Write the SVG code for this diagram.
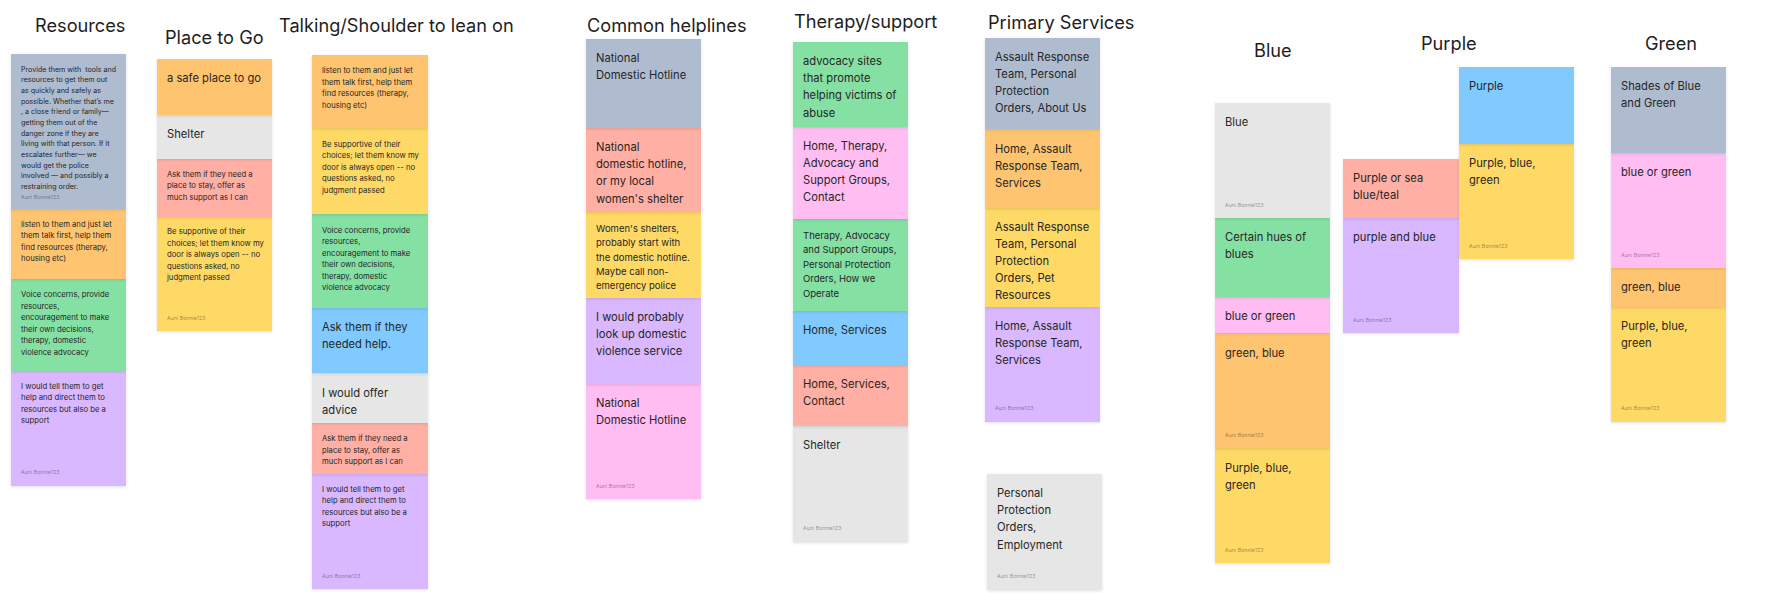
<svg xmlns="http://www.w3.org/2000/svg" width="1767" height="593" viewBox="0 0 1767 593">
<defs>
<filter id="sh" x="-10%" y="-10%" width="120%" height="125%">
<feDropShadow dx="0" dy="1" stdDeviation="1.5" flood-color="#000" flood-opacity="0.12"/>
</filter>
</defs>
<style>
text{font-family:Inter,"Liberation Sans",sans-serif;fill:#262626}
.hd{font-size:18.2px;fill:#1e1e1e}
.l{font-size:11.2px}
.m{font-size:9.5px}
.s{font-size:7.7px}
.xs{font-size:7.1px}
.au{font-size:5.3px;fill:#000;fill-opacity:0.4}
rect{filter:url(#sh)}
.gb{fill:#AFBCCF}.or{fill:#FFC470}.gr{fill:#85E0A3}.vi{fill:#D9B8FF}.ye{fill:#FFD966}.rd{fill:#FFAFA3}.gy{fill:#E6E6E6}.bl{fill:#80CAFF}.pk{fill:#FFBDF2}
</style>
<rect width="1767" height="593" fill="#ffffff" style="filter:none"/>
<g id="headers">
<text class="hd" x="35" y="32">Resources</text>
<text class="hd" x="165" y="44">Place to Go</text>
<text class="hd" x="279" y="31.5">Talking/Shoulder to lean on</text>
<text class="hd" x="587" y="31.5">Common helplines</text>
<text class="hd" x="794" y="27.5">Therapy/support</text>
<text class="hd" x="988" y="29">Primary Services</text>
<text class="hd" x="1254" y="57">Blue</text>
<text class="hd" x="1421" y="50">Purple</text>
<text class="hd" x="1645" y="50">Green</text>
</g>
<g id="connectors"/>

<!-- Resources -->
<g id="res-4"><rect class="vi" x="11" y="371" width="115" height="115"/>
<text class="s" x="21" y="388.5">I would tell them to get<tspan x="21" dy="11.5">help and direct them to</tspan><tspan x="21" dy="11.5">resources but also be a</tspan><tspan x="21" dy="11.5">support</tspan></text>
<text class="au" x="21" y="474">Auni Bonnie123</text></g>
<g id="res-3"><rect class="gr" x="11" y="279" width="115" height="92"/>
<text class="s" x="21" y="297">Voice concerns, provide<tspan x="21" dy="11.5">resources,</tspan><tspan x="21" dy="11.5">encouragement to make</tspan><tspan x="21" dy="11.5">their own decisions,</tspan><tspan x="21" dy="11.5">therapy, domestic</tspan><tspan x="21" dy="11.5">violence advocacy</tspan></text></g>
<g id="res-2"><rect class="or" x="11" y="209" width="115" height="70"/>
<text class="s" x="21" y="226.5">listen to them and just let<tspan x="21" dy="11.5">them talk first, help them</tspan><tspan x="21" dy="11.5">find resources (therapy,</tspan><tspan x="21" dy="11.5">housing etc)</tspan></text></g>
<g id="res-1"><rect class="gb" x="11" y="54" width="115" height="155"/>
<text class="xs" x="21" y="71.7">Provide them with&#160; tools and<tspan x="21" dy="10.66">resources to get them out</tspan><tspan x="21" dy="10.66">as quickly and safely as</tspan><tspan x="21" dy="10.66">possible. Whether that’s me</tspan><tspan x="21" dy="10.66">, a close friend or family—</tspan><tspan x="21" dy="10.66">getting them out of the</tspan><tspan x="21" dy="10.66">danger zone if they are</tspan><tspan x="21" dy="10.66">living with that person. If it</tspan><tspan x="21" dy="10.66">escalates further— we</tspan><tspan x="21" dy="10.66">would get the police</tspan><tspan x="21" dy="10.66">involved — and possibly a</tspan><tspan x="21" dy="10.66">restraining order.</tspan></text>
<text class="au" x="21" y="198.5">Auni Bonnie123</text></g>

<!-- Place to Go -->
<g id="place-4"><rect class="ye" x="157" y="217" width="115" height="114"/>
<text class="s" x="167" y="234">Be supportive of their<tspan x="167" dy="11.5">choices; let them know my</tspan><tspan x="167" dy="11.5">door is always open -- no</tspan><tspan x="167" dy="11.5">questions asked, no</tspan><tspan x="167" dy="11.5">judgment passed</tspan></text>
<text class="au" x="167" y="320">Auni Bonnie123</text></g>
<g id="place-3"><rect class="rd" x="157" y="159" width="115" height="58"/>
<text class="s" x="167" y="176.5">Ask them if they need a<tspan x="167" dy="11.5">place to stay, offer as</tspan><tspan x="167" dy="11.5">much support as I can</tspan></text></g>
<g id="place-2"><rect class="gy" x="157" y="115" width="115" height="44"/>
<text class="l" x="167" y="137.5">Shelter</text></g>
<g id="place-1"><rect class="or" x="157" y="59" width="115" height="56"/>
<text class="l" x="167" y="82">a safe place to go</text></g>

<!-- Talking -->
<g id="talk-7"><rect class="vi" x="312" y="474" width="116" height="115"/>
<text class="s" x="322" y="491.5">I would tell them to get<tspan x="322" dy="11.5">help and direct them to</tspan><tspan x="322" dy="11.5">resources but also be a</tspan><tspan x="322" dy="11.5">support</tspan></text>
<text class="au" x="322" y="577.5">Auni Bonnie123</text></g>
<g id="talk-6"><rect class="rd" x="312" y="423" width="116" height="51"/>
<text class="s" x="322" y="441">Ask them if they need a<tspan x="322" dy="11.5">place to stay, offer as</tspan><tspan x="322" dy="11.5">much support as I can</tspan></text></g>
<g id="talk-5"><rect class="gy" x="312" y="373" width="116" height="50"/>
<text class="l" x="322" y="396.5">I would offer<tspan x="322" dy="17">advice</tspan></text></g>
<g id="talk-4"><rect class="bl" x="312" y="308" width="116" height="65"/>
<text class="l" x="322" y="331">Ask them if they<tspan x="322" dy="17">needed help.</tspan></text></g>
<g id="talk-3"><rect class="gr" x="312" y="214" width="116" height="94"/>
<text class="s" x="322" y="232.5">Voice concerns, provide<tspan x="322" dy="11.5">resources,</tspan><tspan x="322" dy="11.5">encouragement to make</tspan><tspan x="322" dy="11.5">their own decisions,</tspan><tspan x="322" dy="11.5">therapy, domestic</tspan><tspan x="322" dy="11.5">violence advocacy</tspan></text></g>
<g id="talk-2"><rect class="ye" x="312" y="128" width="116" height="86"/>
<text class="s" x="322" y="146.5">Be supportive of their<tspan x="322" dy="11.5">choices; let them know my</tspan><tspan x="322" dy="11.5">door is always open -- no</tspan><tspan x="322" dy="11.5">questions asked, no</tspan><tspan x="322" dy="11.5">judgment passed</tspan></text></g>
<g id="talk-1"><rect class="or" x="312" y="55" width="116" height="73"/>
<text class="s" x="322" y="73">listen to them and just let<tspan x="322" dy="11.5">them talk first, help them</tspan><tspan x="322" dy="11.5">find resources (therapy,</tspan><tspan x="322" dy="11.5">housing etc)</tspan></text></g>

<!-- Common helplines -->
<g id="help-5"><rect class="pk" x="586" y="384" width="115" height="115"/>
<text class="l" x="596" y="407">National<tspan x="596" dy="17.2">Domestic Hotline</tspan></text>
<text class="au" x="596" y="488">Auni Bonnie123</text></g>
<g id="help-4"><rect class="vi" x="586" y="298" width="115" height="86"/>
<text class="l" x="596" y="320.5">I would probably<tspan x="596" dy="17.2">look up domestic</tspan><tspan x="596" dy="17.2">violence service</tspan></text></g>
<g id="help-3"><rect class="ye" x="586" y="212" width="115" height="86"/>
<text class="m" x="596" y="232">Women's shelters,<tspan x="596" dy="14.3">probably start with</tspan><tspan x="596" dy="14.3">the domestic hotline.</tspan><tspan x="596" dy="14.3">Maybe call non-</tspan><tspan x="596" dy="14.3">emergency police</tspan></text></g>
<g id="help-2"><rect class="rd" x="586" y="128" width="115" height="84"/>
<text class="l" x="596" y="151">National<tspan x="596" dy="17.2">domestic hotline,</tspan><tspan x="596" dy="17.2">or my local</tspan><tspan x="596" dy="17.2">women's shelter</tspan></text></g>
<g id="help-1"><rect class="gb" x="586" y="39" width="115" height="89"/>
<text class="l" x="596" y="61.5">National<tspan x="596" dy="17.2">Domestic Hotline</tspan></text></g>

<!-- Therapy/support -->
<g id="ther-6"><rect class="gy" x="793" y="426" width="115" height="116"/>
<text class="l" x="803" y="448.5">Shelter</text>
<text class="au" x="803" y="529.5">Auni Bonnie123</text></g>
<g id="ther-5"><rect class="rd" x="793" y="365" width="115" height="61"/>
<text class="l" x="803" y="387.5">Home, Services,<tspan x="803" dy="17.2">Contact</tspan></text></g>
<g id="ther-4"><rect class="bl" x="793" y="311" width="115" height="54"/>
<text class="l" x="803" y="333.5">Home, Services</text></g>
<g id="ther-3"><rect class="gr" x="793" y="219" width="115" height="92"/>
<text class="m" x="803" y="239">Therapy, Advocacy<tspan x="803" dy="14.4">and Support Groups,</tspan><tspan x="803" dy="14.4">Personal Protection</tspan><tspan x="803" dy="14.4">Orders, How we</tspan><tspan x="803" dy="14.4">Operate</tspan></text></g>
<g id="ther-2"><rect class="pk" x="793" y="127" width="115" height="92"/>
<text class="l" x="803" y="149.5">Home, Therapy,<tspan x="803" dy="17.2">Advocacy and</tspan><tspan x="803" dy="17.2">Support Groups,</tspan><tspan x="803" dy="17.2">Contact</tspan></text></g>
<g id="ther-1"><rect class="gr" x="793" y="42" width="115" height="85"/>
<text class="l" x="803" y="65">advocacy sites<tspan x="803" dy="17.2">that promote</tspan><tspan x="803" dy="17.2">helping victims of</tspan><tspan x="803" dy="17.2">abuse</tspan></text></g>

<!-- Primary Services -->
<g id="prim-4"><rect class="vi" x="985" y="307" width="115" height="115"/>
<text class="l" x="995" y="329.5">Home, Assault<tspan x="995" dy="17.2">Response Team,</tspan><tspan x="995" dy="17.2">Services</tspan></text>
<text class="au" x="995" y="410">Auni Bonnie123</text></g>
<g id="prim-3"><rect class="ye" x="985" y="208" width="115" height="99"/>
<text class="l" x="995" y="230.5">Assault Response<tspan x="995" dy="17.2">Team, Personal</tspan><tspan x="995" dy="17.2">Protection</tspan><tspan x="995" dy="17.2">Orders, Pet</tspan><tspan x="995" dy="17.2">Resources</tspan></text></g>
<g id="prim-2"><rect class="or" x="985" y="129" width="115" height="79"/>
<text class="l" x="995" y="152.5">Home, Assault<tspan x="995" dy="17.2">Response Team,</tspan><tspan x="995" dy="17.2">Services</tspan></text></g>
<g id="prim-1"><rect class="gb" x="985" y="38" width="115" height="91"/>
<text class="l" x="995" y="60.5">Assault Response<tspan x="995" dy="17.2">Team, Personal</tspan><tspan x="995" dy="17.2">Protection</tspan><tspan x="995" dy="17.2">Orders, About Us</tspan></text></g>
<g id="prim-5"><rect class="gy" x="987" y="474" width="115" height="116"/>
<text class="l" x="997" y="497">Personal<tspan x="997" dy="17.2">Protection</tspan><tspan x="997" dy="17.2">Orders,</tspan><tspan x="997" dy="17.2">Employment</tspan></text>
<text class="au" x="997" y="578">Auni Bonnie123</text></g>

<!-- Blue -->
<g id="blue-5"><rect class="ye" x="1215" y="448" width="115" height="115"/>
<text class="l" x="1225" y="471.5">Purple, blue,<tspan x="1225" dy="17.2">green</tspan></text>
<text class="au" x="1225" y="552">Auni Bonnie123</text></g>
<g id="blue-4"><rect class="or" x="1215" y="333" width="115" height="115"/>
<text class="l" x="1225" y="356.5">green, blue</text>
<text class="au" x="1225" y="437">Auni Bonnie123</text></g>
<g id="blue-3"><rect class="pk" x="1215" y="297" width="115" height="36"/>
<text class="l" x="1225" y="319.5">blue or green</text></g>
<g id="blue-2"><rect class="gr" x="1215" y="218" width="115" height="79"/>
<text class="l" x="1225" y="241">Certain hues of<tspan x="1225" dy="17.2">blues</tspan></text></g>
<g id="blue-1"><rect class="gy" x="1215" y="103" width="115" height="115"/>
<text class="l" x="1225" y="126">Blue</text>
<text class="au" x="1225" y="206.5">Auni Bonnie123</text></g>

<!-- Purple -->
<g id="purp-2"><rect class="vi" x="1343" y="218" width="116" height="115"/>
<text class="l" x="1353" y="241">purple and blue</text>
<text class="au" x="1353" y="322">Auni Bonnie123</text></g>
<g id="purp-1"><rect class="rd" x="1343" y="159" width="116" height="59"/>
<text class="l" x="1353" y="182">Purple or sea<tspan x="1353" dy="17.2">blue/teal</tspan></text></g>
<g id="purp-4"><rect class="ye" x="1459" y="144" width="115" height="115"/>
<text class="l" x="1469" y="167">Purple, blue,<tspan x="1469" dy="17.2">green</tspan></text>
<text class="au" x="1469" y="247.5">Auni Bonnie123</text></g>
<g id="purp-3"><rect class="bl" x="1459" y="67" width="115" height="77"/>
<text class="l" x="1469" y="89.5">Purple</text></g>

<!-- Green -->
<g id="green-4"><rect class="ye" x="1611" y="307" width="115" height="115"/>
<text class="l" x="1621" y="330">Purple, blue,<tspan x="1621" dy="17.2">green</tspan></text>
<text class="au" x="1621" y="410">Auni Bonnie123</text></g>
<g id="green-3"><rect class="or" x="1611" y="268" width="115" height="39"/>
<text class="l" x="1621" y="291">green, blue</text></g>
<g id="green-2"><rect class="pk" x="1611" y="153" width="115" height="115"/>
<text class="l" x="1621" y="176">blue or green</text>
<text class="au" x="1621" y="256.5">Auni Bonnie123</text></g>
<g id="green-1"><rect class="gb" x="1611" y="67" width="115" height="86"/>
<text class="l" x="1621" y="89.5">Shades of Blue<tspan x="1621" dy="17.2">and Green</tspan></text></g>
</svg>
